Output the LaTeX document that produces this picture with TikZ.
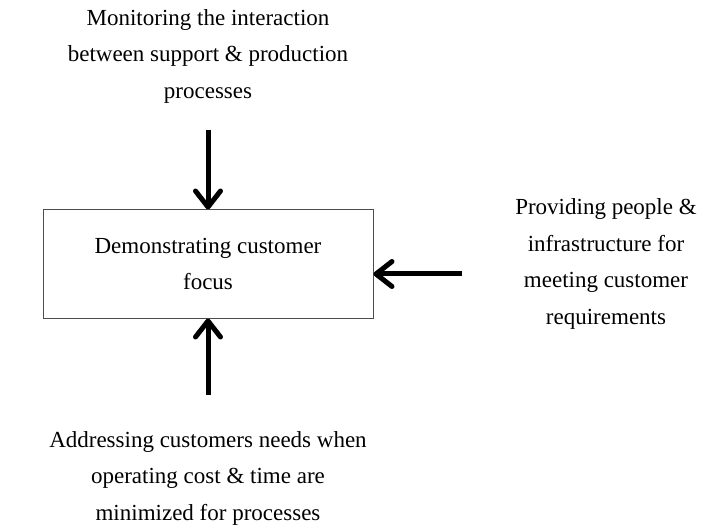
\documentclass[tikz,border=0pt]{standalone}
\usepackage{fontspec}
\setmainfont{Liberation Serif}
\usetikzlibrary{arrows.meta}
\tikzset{>={Straight Barb[length=16pt,width=25pt,line width=5pt,round]}}
\tikzset{
  label/.style={align=center, inner sep=0pt, font=\fontsize{23}{36.5}\selectfont},
  focusbox/.style={draw=black!70, line width=1pt, minimum width=330pt, minimum height=108pt, align=center, inner sep=0pt, font=\fontsize{23}{36.5}\selectfont},
  flow/.style={->, line width=5pt}
}

\begin{document}
\begin{tikzpicture}[x=1pt, y=-1pt]
\useasboundingbox (0,0) rectangle (712,529);
\node[focusbox] (focus) at (208,264) {Demonstrating customer\\focus};
\node[label] (monitor) at (208,56) {Monitoring the interaction\\between support \& production\\processes};
\node[label] (people) at (606,264) {Providing people \&\\infrastructure for\\meeting customer\\requirements};
\node[label] (cost) at (208,478) {Addressing customers needs when\\operating cost \& time are\\minimized for processes};
\coordinate (monitortail) at (208,130);
\coordinate (peopletail) at (462,274);
\coordinate (costtail) at (208,395);
\draw[flow] (monitortail) -- (focus.north);
\draw[flow] (peopletail) -- (focus.east |- peopletail);
\draw[flow] (costtail) -- (focus.south);
\end{tikzpicture}
\end{document}
